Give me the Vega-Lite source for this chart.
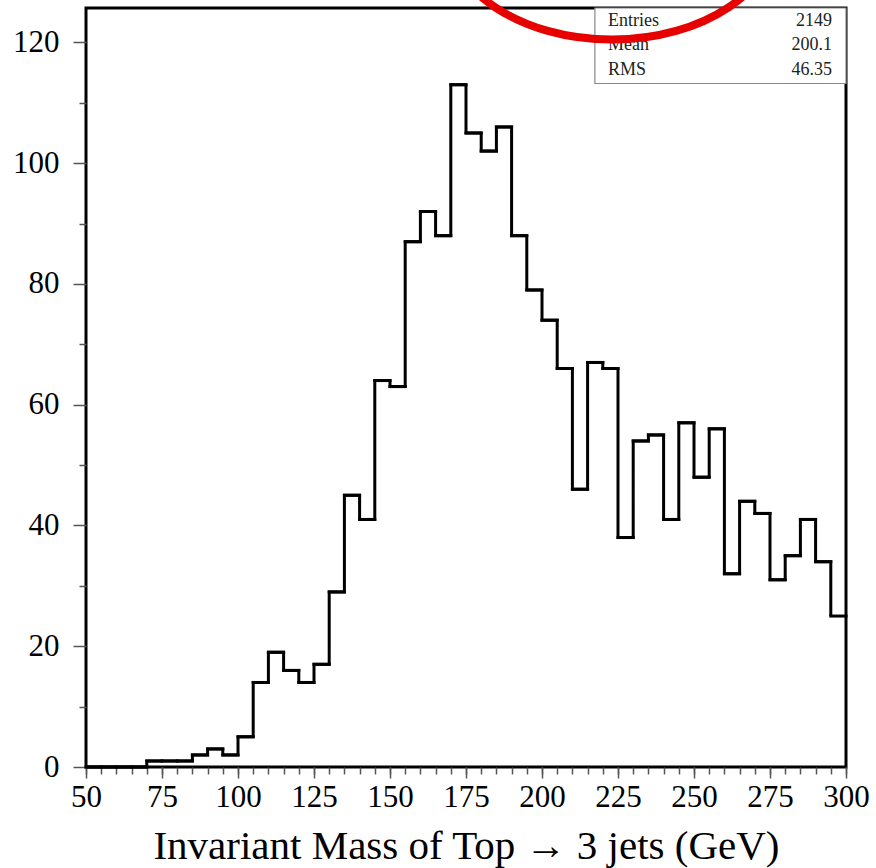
{
  "$schema": "https://vega.github.io/schema/vega-lite/v6.json",
  "autosize": "none",
  "width": 760,
  "height": 759,
  "padding": {"left": 86, "top": 8, "right": 30, "bottom": 101},
  "background": "white",
  "config": {
    "view": {"stroke": "black", "strokeWidth": 3},
    "font": "Liberation Serif"
  },
  "resolve": {"axis": {"x": "independent"}},
  "datasets": {
    "hist": [
      {"lo": 50, "hi": 55, "count": 0},
      {"lo": 55, "hi": 60, "count": 0},
      {"lo": 60, "hi": 65, "count": 0},
      {"lo": 65, "hi": 70, "count": 0},
      {"lo": 70, "hi": 75, "count": 1},
      {"lo": 75, "hi": 80, "count": 1},
      {"lo": 80, "hi": 85, "count": 1},
      {"lo": 85, "hi": 90, "count": 2},
      {"lo": 90, "hi": 95, "count": 3},
      {"lo": 95, "hi": 100, "count": 2},
      {"lo": 100, "hi": 105, "count": 5},
      {"lo": 105, "hi": 110, "count": 14},
      {"lo": 110, "hi": 115, "count": 19},
      {"lo": 115, "hi": 120, "count": 16},
      {"lo": 120, "hi": 125, "count": 14},
      {"lo": 125, "hi": 130, "count": 17},
      {"lo": 130, "hi": 135, "count": 29},
      {"lo": 135, "hi": 140, "count": 45},
      {"lo": 140, "hi": 145, "count": 41},
      {"lo": 145, "hi": 150, "count": 64},
      {"lo": 150, "hi": 155, "count": 63},
      {"lo": 155, "hi": 160, "count": 87},
      {"lo": 160, "hi": 165, "count": 92},
      {"lo": 165, "hi": 170, "count": 88},
      {"lo": 170, "hi": 175, "count": 113},
      {"lo": 175, "hi": 180, "count": 105},
      {"lo": 180, "hi": 185, "count": 102},
      {"lo": 185, "hi": 190, "count": 106},
      {"lo": 190, "hi": 195, "count": 88},
      {"lo": 195, "hi": 200, "count": 79},
      {"lo": 200, "hi": 205, "count": 74},
      {"lo": 205, "hi": 210, "count": 66},
      {"lo": 210, "hi": 215, "count": 46},
      {"lo": 215, "hi": 220, "count": 67},
      {"lo": 220, "hi": 225, "count": 66},
      {"lo": 225, "hi": 230, "count": 38},
      {"lo": 230, "hi": 235, "count": 54},
      {"lo": 235, "hi": 240, "count": 55},
      {"lo": 240, "hi": 245, "count": 41},
      {"lo": 245, "hi": 250, "count": 57},
      {"lo": 250, "hi": 255, "count": 48},
      {"lo": 255, "hi": 260, "count": 56},
      {"lo": 260, "hi": 265, "count": 32},
      {"lo": 265, "hi": 270, "count": 44},
      {"lo": 270, "hi": 275, "count": 42},
      {"lo": 275, "hi": 280, "count": 31},
      {"lo": 280, "hi": 285, "count": 35},
      {"lo": 285, "hi": 290, "count": 41},
      {"lo": 290, "hi": 295, "count": 34},
      {"lo": 295, "hi": 300, "count": 25}
    ],
    "stats": [
      {"label": "Entries", "value": "2149"},
      {"label": "Mean", "value": "200.1"},
      {"label": "RMS", "value": "46.35"}
    ]
  },
  "layer": [
    {
      "data": {"name": "hist"},
      "mark": {"type": "line", "interpolate": "step-after", "stroke": "black", "strokeWidth": 3, "strokeJoin": "miter"},
      "encoding": {
        "x": {
          "field": "lo", "type": "quantitative",
          "scale": {"domain": [50, 300], "nice": false, "zero": false},
          "axis": {
            "orient": "bottom",
            "values": [50, 75, 100, 125, 150, 175, 200, 225, 250, 275, 300],
            "domain": false,
            "grid": false,
            "tickColor": "#555",
            "tickWidth": 1.5,
            "tickSize": 11,
            "labelPadding": 4,
            "labelFont": "Liberation Serif",
            "labelFontSize": 31,
            "labelColor": "black",
            "labelFlush": false,
            "labelOverlap": false,
            "title": "Invariant Mass of Top → 3 jets (GeV)",
            "titleFont": "Liberation Serif",
            "titleFontSize": 41,
            "titleFontWeight": "normal",
            "titleColor": "black",
            "titlePadding": 14
          }
        },
        "y": {
          "field": "count", "type": "quantitative",
          "scale": {"domain": [0, 125.7], "nice": false},
          "axis": {
            "values": [0,5,10,15,20,25,30,35,40,45,50,55,60,65,70,75,80,85,90,95,100,105,110,115,120,125],
            "labelExpr": "datum.value % 20 === 0 ? datum.label : ''",
            "domain": false,
            "grid": false,
            "tickColor": "#555",
            "tickWidth": 1.5,
            "tickSize": {"condition": {"test": "datum.value % 20 === 0", "value": 13}, "value": 7},
            "labelPadding": 14,
            "labelFont": "Liberation Serif",
            "labelFontSize": 31,
            "labelColor": "black",
            "labelFlush": false,
            "labelOverlap": false,
            "title": null
          }
        }
      }
    },
    {
      "data": {"name": "hist"},
      "mark": {"type": "rule", "stroke": "black", "strokeWidth": 3, "strokeCap": "square"},
      "encoding": {
        "x": {
          "field": "lo", "type": "quantitative",
          "axis": {
            "orient": "bottom",
            "values": [50,55,60,65,70,75,80,85,90,95,100,105,110,115,120,125,130,135,140,145,150,155,160,165,170,175,180,185,190,195,200,205,210,215,220,225,230,235,240,245,250,255,260,265,270,275,280,285,290,295,300],
            "labels": false,
            "domain": false,
            "grid": false,
            "tickColor": "#555",
            "tickWidth": 1.5,
            "tickSize": 7,
            "title": null
          }
        },
        "x2": {"field": "hi"},
        "y": {"field": "count", "type": "quantitative"}
      }
    },
    {
      "data": {"values": [{}]},
      "mark": {"type": "rect", "fill": "white", "stroke": "#888", "strokeWidth": 1.2},
      "encoding": {
        "x": {"datum": 217.4, "type": "quantitative", "axis": null},
        "x2": {"datum": 300},
        "y": {"datum": 125.7, "type": "quantitative"},
        "y2": {"datum": 113.2}
      }
    },
    {
      "data": {"name": "stats"},
      "transform": [{"filter": "datum.label === 'Entries'"}],
      "layer": [
        {"mark": {"type": "text", "align": "left", "baseline": "middle", "font": "Liberation Serif", "fontSize": 18, "color": "#222"},
         "encoding": {"x": {"datum": 221.7, "type": "quantitative", "axis": null}, "y": {"datum": 123.6, "type": "quantitative"}, "text": {"field": "label"}}},
        {"mark": {"type": "text", "align": "right", "baseline": "middle", "font": "Liberation Serif", "fontSize": 18, "color": "#222"},
         "encoding": {"x": {"datum": 295.4, "type": "quantitative", "axis": null}, "y": {"datum": 123.6, "type": "quantitative"}, "text": {"field": "value"}}}
      ]
    },
    {
      "data": {"name": "stats"},
      "transform": [{"filter": "datum.label === 'Mean'"}],
      "layer": [
        {"mark": {"type": "text", "align": "left", "baseline": "middle", "font": "Liberation Serif", "fontSize": 18, "color": "#222"},
         "encoding": {"x": {"datum": 221.7, "type": "quantitative", "axis": null}, "y": {"datum": 119.5, "type": "quantitative"}, "text": {"field": "label"}}},
        {"mark": {"type": "text", "align": "right", "baseline": "middle", "font": "Liberation Serif", "fontSize": 18, "color": "#222"},
         "encoding": {"x": {"datum": 295.4, "type": "quantitative", "axis": null}, "y": {"datum": 119.5, "type": "quantitative"}, "text": {"field": "value"}}}
      ]
    },
    {
      "data": {"name": "stats"},
      "transform": [{"filter": "datum.label === 'RMS'"}],
      "layer": [
        {"mark": {"type": "text", "align": "left", "baseline": "middle", "font": "Liberation Serif", "fontSize": 18, "color": "#222"},
         "encoding": {"x": {"datum": 221.7, "type": "quantitative", "axis": null}, "y": {"datum": 115.5, "type": "quantitative"}, "text": {"field": "label"}}},
        {"mark": {"type": "text", "align": "right", "baseline": "middle", "font": "Liberation Serif", "fontSize": 18, "color": "#222"},
         "encoding": {"x": {"datum": 295.4, "type": "quantitative", "axis": null}, "y": {"datum": 115.5, "type": "quantitative"}, "text": {"field": "value"}}}
      ]
    },
    {
      "data": {"values": [{}]},
      "mark": {"type": "point", "filled": false, "stroke": "#e60000", "strokeWidth": 8, "opacity": 1,
               "shape": "M -1 0 A 1 0.667 0 1 0 1 0 A 1 0.667 0 1 0 -1 0 Z", "size": 108900},
      "encoding": {
        "x": {"datum": 223, "type": "quantitative", "axis": null},
        "y": {"datum": 138.7, "type": "quantitative"}
      }
    }
  ]
}
